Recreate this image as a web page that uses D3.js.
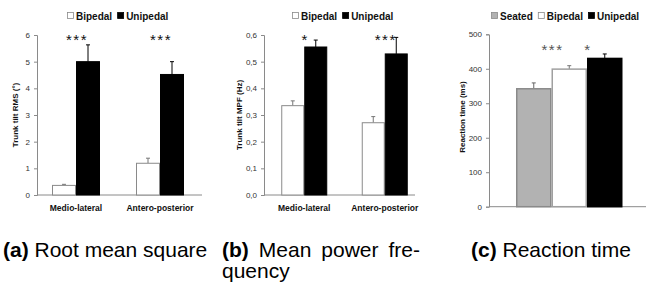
<!DOCTYPE html>
<html><head><meta charset="utf-8">
<script src="https://cdn.jsdelivr.net/npm/d3@7"></script>
<style>
html,body{margin:0;padding:0;background:#fff;}
svg{display:block;font-family:"Liberation Sans",Arial,Helvetica,sans-serif;}
</style></head><body>
<svg id="c" width="646" height="282"></svg>
<script>
// ---- data ----
const categoriesAB = ["Medio-lateral", "Antero-posterior"];
const seriesAB = ["Bipedal", "Unipedal"];
const rmsMean = { Bipedal: [0.36, 1.19], Unipedal: [5.0, 4.52] };
const rmsErr  = { Bipedal: [0.40, 1.38], Unipedal: [5.63, 5.0] };
const rmsTicks = [0, 1, 2, 3, 4, 5, 6];
const rmsStars = ["***", "***"];
const mpfMean = { Bipedal: [0.335, 0.271], Unipedal: [0.555, 0.529] };
const mpfErr  = { Bipedal: [0.353, 0.294], Unipedal: [0.581, 0.591] };
const mpfTicks = [0, 0.1, 0.2, 0.3, 0.4, 0.5, 0.6];
const mpfStars = ["*", "***"];
const seriesC = ["Seated", "Bipedal", "Unipedal"];
const rtMean = [342, 399, 430];
const rtErr  = [359, 409, 443];
const rtTicks = [0, 100, 200, 300, 400, 500];
const rtStars = ["***", "*"]; // between Seated/Bipedal and Bipedal/Unipedal
const captions = [
  { tag: "(a)", text: " Root mean square" },
  { tag: "(b)", text: " Mean power fre-", line2: "quency" },
  { tag: "(c)", text: " Reaction time" }
];

const fill = { Seated: "#b2b2b2", Bipedal: "#ffffff", Unipedal: "#000000" };
const stroke = { Seated: "#8a8a8a", Bipedal: "#8a8a8a", Unipedal: "#000000" };
const errCol = { Seated: "#666", Bipedal: "#777", Unipedal: "#000" };
const axisCol = "#8a8a8a";

const svg = d3.select("#c");

function axisY(g, y, ticks, fmt, x0) {
  const ax = g.append("g").attr("transform", `translate(${x0},0)`)
    .call(d3.axisLeft(y).tickValues(ticks).tickFormat(fmt).tickSize(3).tickPadding(4));
  ax.select(".domain").attr("stroke", axisCol);
  ax.selectAll(".tick line").attr("stroke", axisCol);
  ax.selectAll(".tick text").attr("fill", "#333").style("font-size", "8px")
    .style("font-family", '"Liberation Sans",Arial,sans-serif');
}

function legend(g, items, xStart, yBase) {
  let x = xStart;
  items.forEach(s => {
    g.append("rect").attr("x", x + 0.5).attr("y", yBase - 7.5).attr("width", 6).attr("height", 6)
      .attr("fill", fill[s]).attr("stroke", stroke[s]).attr("stroke-width", 0.8);
    const t = g.append("text").attr("x", x + 9).attr("y", yBase).text(s)
      .style("font-size", "10px").style("font-weight", "bold").attr("fill", "#111");
    x += 9 + t.node().getComputedTextLength() + 5;
  });
}

function barChartAB(opts) {
  const g = svg.append("g");
  const y = d3.scaleLinear().domain(opts.domain).range([195, 35]);
  const x = d3.scaleBand().domain(categoriesAB).range(opts.xRange).padding(0);
  const bw = opts.barW;
  const xs = d3.scaleBand().domain(seriesAB)
    .range([x.bandwidth() / 2 - bw, x.bandwidth() / 2 + bw]);
  g.append("line").attr("x1", opts.xRange[0] + opts.axisOffset).attr("x2", opts.axisEnd)
    .attr("y1", y(0)).attr("y2", y(0)).attr("stroke", axisCol);
  seriesAB.forEach(s => {
    categoriesAB.forEach((c, i) => {
      const bx = x(c) + xs(s);
      g.append("line").attr("x1", bx + bw / 2).attr("x2", bx + bw / 2)
        .attr("y1", y(opts.mean[s][i])).attr("y2", y(opts.err[s][i])).attr("stroke", errCol[s]);
      g.append("line").attr("x1", bx + bw / 2 - 2).attr("x2", bx + bw / 2 + 2)
        .attr("y1", y(opts.err[s][i])).attr("y2", y(opts.err[s][i])).attr("stroke", errCol[s]);
      g.append("rect").attr("x", bx + 0.5).attr("width", bw - 1)
        .attr("y", y(opts.mean[s][i])).attr("height", y(0) - y(opts.mean[s][i]))
        .attr("fill", fill[s]).attr("stroke", stroke[s]).attr("stroke-width", 1);
    });
  });
  axisY(g, y, opts.ticks, opts.fmt, opts.xRange[0] + opts.axisOffset);
  categoriesAB.forEach(c => {
    g.append("text").attr("x", x(c) + x.bandwidth() / 2).attr("y", 211)
      .attr("text-anchor", "middle").text(c)
      .style("font-size", "8.5px").style("font-weight", "bold").attr("fill", "#111");
  });
  opts.stars.forEach((st, i) => {
    g.append("text").attr("x", x(categoriesAB[i]) + x.bandwidth() / 2 + 1).attr("y", 45)
      .attr("text-anchor", "middle").text(st)
      .style("font-size", "15px").style("letter-spacing", "1.5px").attr("fill", "#111");
  });
  g.append("text").attr("transform", `translate(${opts.labelX},115) rotate(-90)`)
    .attr("text-anchor", "middle").text(opts.label)
    .style("font-size", "8px").style("font-weight", "bold").attr("fill", "#111");
  legend(g, seriesAB, opts.legendX, 20);
}

barChartAB({ domain: [0, 6], xRange: [34, 202], axisOffset: 3, axisEnd: 202, barW: 24,
  mean: rmsMean, err: rmsErr, ticks: rmsTicks, fmt: d3.format("d"), stars: rmsStars,
  label: "Trunk tilt RMS (°)", labelX: 18, legendX: 67 });
barChartAB({ domain: [0, 0.6], xRange: [264, 425], axisOffset: 0, axisEnd: 415, barW: 23,
  mean: mpfMean, err: mpfErr, ticks: mpfTicks, fmt: d => d3.format(".1f")(d).replace(".", ","),
  stars: mpfStars, label: "Trunk tilt MPF (Hz)", labelX: 242, legendX: 292 });

// panel c
(function () {
  const g = svg.append("g");
  const y = d3.scaleLinear().domain([0, 500]).range([206.7, 34.3]);
  const x = d3.scaleBand().domain(seriesC).range([516, 622.5]);
  g.append("line").attr("x1", 489).attr("x2", 646).attr("y1", y(0)).attr("y2", y(0)).attr("stroke", axisCol);
  seriesC.forEach((s, i) => {
    const bx = x(s), bw = x.bandwidth();
    g.append("line").attr("x1", bx + bw / 2).attr("x2", bx + bw / 2)
      .attr("y1", y(rtMean[i])).attr("y2", y(rtErr[i])).attr("stroke", errCol[s]);
    g.append("line").attr("x1", bx + bw / 2 - 2).attr("x2", bx + bw / 2 + 2)
      .attr("y1", y(rtErr[i])).attr("y2", y(rtErr[i])).attr("stroke", errCol[s]);
    g.append("rect").attr("x", bx + 0.75).attr("width", bw - 1.5)
      .attr("y", y(rtMean[i])).attr("height", y(0) - y(rtMean[i]))
      .attr("fill", fill[s]).attr("stroke", s === "Bipedal" ? "#a0a0a0" : stroke[s])
      .attr("stroke-width", 1.5);
  });
  axisY(g, y, rtTicks, d3.format("d"), 489);
  rtStars.forEach((st, i) => {
    g.append("text").attr("x", x(seriesC[i + 1]) + 1).attr("y", 55)
      .attr("text-anchor", "middle").text(st)
      .style("font-size", "15px").style("letter-spacing", "1.5px").attr("fill", "#555");
  });
  g.append("text").attr("transform", `translate(465,117) rotate(-90)`)
    .attr("text-anchor", "middle").text("Reaction time (ms)")
    .style("font-size", "8px").style("font-weight", "bold").attr("fill", "#111");
  legend(g, seriesC, 491, 20);
})();

// captions
const capX = [3, 222, 471];
captions.forEach((c, i) => {
  const t = svg.append("text").attr("x", capX[i]).attr("y", 257)
    .style("font-size", "21px").attr("fill", "#000");
  t.append("tspan").style("font-weight", "bold").text(c.tag);
  t.append("tspan").text(c.text);
  if (c.line2) {
    const w = t.node().getComputedTextLength();
    const target = 420 - capX[i];
    const nSpaces = (c.tag + c.text).split(" ").length - 1;
    t.style("word-spacing", ((target - w) / nSpaces) + "px");
    svg.append("text").attr("x", capX[i]).attr("y", 278).style("font-size", "21px").text(c.line2);
  }
});
</script></body></html>
